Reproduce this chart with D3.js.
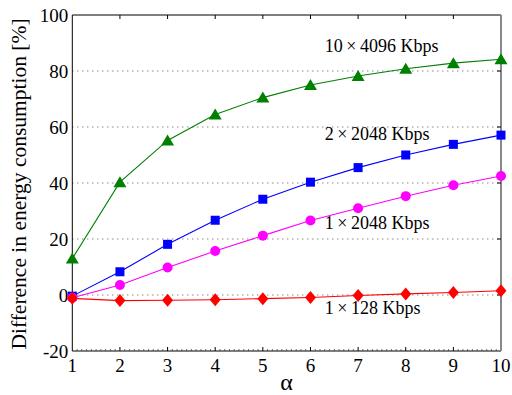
<!DOCTYPE html>
<html><head><meta charset="utf-8">
<script src="https://cdn.jsdelivr.net/npm/d3@7"></script>
<style>body{margin:0;background:#fff}svg{display:block}</style>
</head><body>
<svg id="c" width="512" height="395" font-family="'Liberation Serif', 'Times New Roman', Times, 'DejaVu Serif', serif"></svg>
<script>
const alphas = [1,2,3,4,5,6,7,8,9,10];
const s10x4096 = [13,40.3,55.2,64.5,70.5,75,78.2,80.8,82.8,84.2];
const s2x2048 = [-0.4,8.3,18.1,26.7,34.2,40.3,45.5,50,53.8,57.1];
const s1x2048 = [-1,3.6,9.8,15.7,21.2,26.6,31,35.3,39.2,42.5];
const s1x128 = [-1.2,-2,-1.9,-1.7,-1.3,-0.9,-0.2,0.4,0.9,1.5];
const yTicks = [-20,0,20,40,60,80,100];
const gridVals = [0,20,40,60,80];
const seriesNames = ["10\u2009\u00d7\u20094096 Kbps","2\u2009\u00d7\u20092048 Kbps","1\u2009\u00d7\u20092048 Kbps","1\u2009\u00d7\u2009128 Kbps"];
const labelPos = [[6.3,89],[6.3,57.5],[6.3,26],[6.3,-4.5]]; // data coords for annotations (left edge)

const svg = d3.select("#c");
const L=72.3,R=501,T=15,B=351;
const x = d3.scaleLinear().domain([1,10]).range([L,R]);
const y = d3.scaleLinear().domain([-20,100]).range([B,T]);

svg.append("g").selectAll("line").data(gridVals).join("line")
  .attr("x1",L).attr("x2",R).attr("y1",d=>y(d)).attr("y2",d=>y(d))
  .attr("stroke","#555").attr("stroke-width",1).attr("stroke-dasharray","1,4");

svg.append("line").attr("x1",L).attr("x2",R).attr("y1",T).attr("y2",T).attr("stroke","#000");
svg.append("line").attr("x1",L).attr("x2",L).attr("y1",T).attr("y2",B).attr("stroke","#000");
svg.append("line").attr("x1",L).attr("x2",R).attr("y1",B).attr("y2",B).attr("stroke","#000");
svg.append("line").attr("x1",R).attr("x2",R).attr("y1",T).attr("y2",B).attr("stroke","#888").attr("stroke-width",2);

svg.append("g").selectAll("line").data(alphas.slice(1,-1)).join("line")
  .attr("x1",d=>x(d)).attr("x2",d=>x(d)).attr("y1",T).attr("y2",T+4).attr("stroke","#000");
svg.append("g").selectAll("line").data(alphas.slice(1,-1)).join("line")
  .attr("x1",d=>x(d)).attr("x2",d=>x(d)).attr("y1",B).attr("y2",B-4).attr("stroke","#000");
const minor = d3.range(10,100).map(v=>v/10).filter(v=>Math.abs(v-Math.round(v))>1e-6);
svg.append("g").selectAll("line").data(minor).join("line")
  .attr("x1",d=>x(d)).attr("x2",d=>x(d)).attr("y1",B).attr("y2",B-2).attr("stroke","#444").attr("stroke-width",0.8);
svg.append("g").selectAll("line").data(gridVals).join("line")
  .attr("x1",R-4).attr("x2",R).attr("y1",d=>y(d)).attr("y2",d=>y(d)).attr("stroke","#000");

svg.append("g").selectAll("text").data(yTicks).join("text")
  .attr("x",L-4).attr("y",d=>y(d)).attr("dy","0.35em").attr("text-anchor","end")
  .attr("font-size",19).text(d=>d);
svg.append("g").selectAll("text").data(alphas).join("text")
  .attr("x",d=>x(d)).attr("y",372).attr("text-anchor","middle")
  .attr("font-size",19).text(d=>d);

svg.append("text").attr("x",(L+R)/2).attr("y",390).attr("text-anchor","middle").attr("font-size",24).text("\u03b1");
svg.append("text").attr("transform",`translate(26,${(T+B)/2+1}) rotate(-90)`).attr("text-anchor","middle")
  .attr("font-size",21.5).text("Difference in energy consumption [%]");

const series = [
  {v:s10x4096,c:"#008000",m:"tri"},
  {v:s2x2048,c:"#0000ff",m:"sq"},
  {v:s1x2048,c:"#ff00ff",m:"circ"},
  {v:s1x128,c:"#ff0000",m:"dia"}
];
const line = d3.line().x((d,i)=>x(alphas[i])).y(d=>y(d));
series.forEach((s,k)=>{
  svg.append("path").attr("d",line(s.v)).attr("fill","none").attr("stroke",s.c).attr("stroke-width",1.1);
  const g = svg.append("g");
  const pts = s.v.map((d,i)=>[x(alphas[i]),y(d)]);
  if(s.m==="tri") g.selectAll("path").data(pts).join("path")
      .attr("d",p=>`M${p[0]},${p[1]-6}L${p[0]+6.5},${p[1]+5}L${p[0]-6.5},${p[1]+5}Z`).attr("fill",s.c);
  if(s.m==="sq") g.selectAll("rect").data(pts).join("rect")
      .attr("x",p=>p[0]-4.5).attr("y",p=>p[1]-4.5).attr("width",9).attr("height",9).attr("fill",s.c);
  if(s.m==="circ") g.selectAll("circle").data(pts).join("circle")
      .attr("cx",p=>p[0]).attr("cy",p=>p[1]).attr("r",5).attr("fill",s.c);
  if(s.m==="dia") g.selectAll("path").data(pts).join("path")
      .attr("d",p=>`M${p[0]},${p[1]-6.5}L${p[0]+5.5},${p[1]}L${p[0]},${p[1]+6.5}L${p[0]-5.5},${p[1]}Z`).attr("fill",s.c);
  svg.append("text").attr("x",x(labelPos[k][0])).attr("y",y(labelPos[k][1])).attr("dy","0.35em")
    .attr("text-anchor","start").attr("font-size",18).text(seriesNames[k]);
});
</script>
</body></html>
